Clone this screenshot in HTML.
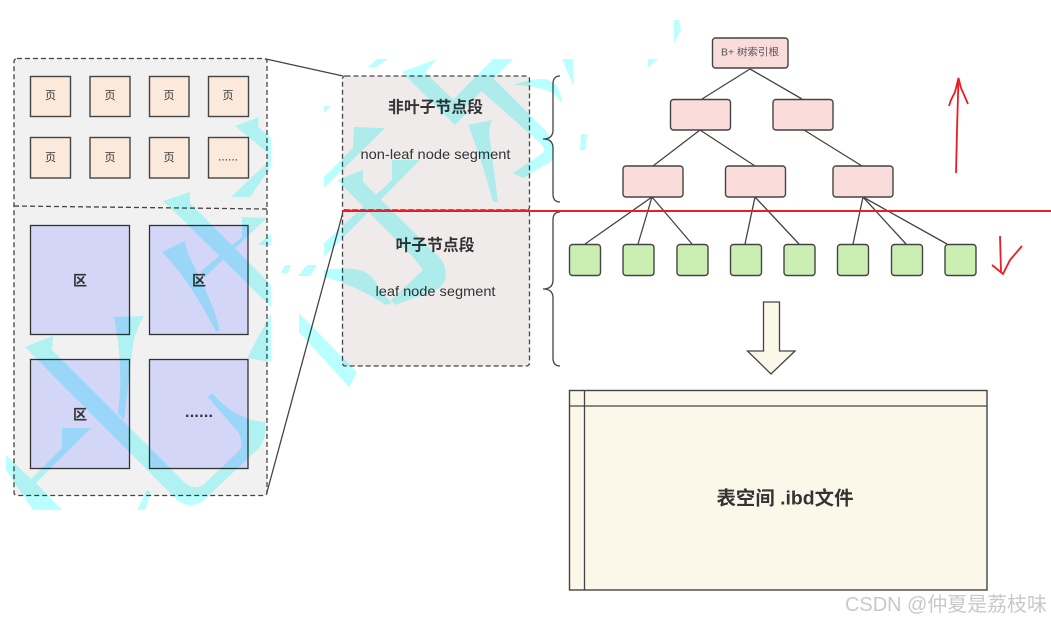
<!DOCTYPE html>
<html><head><meta charset="utf-8"><style>
html,body{margin:0;padding:0;background:#fff;width:1051px;height:622px;overflow:hidden}
svg{display:block;filter:blur(0.35px)}
text{font-family:"Liberation Sans","Noto Sans CJK SC",sans-serif;text-anchor:middle;dominant-baseline:central;fill:#333}
.b{font-weight:bold}
.s{stroke:#444;stroke-width:1.3;fill:none}
.d{stroke:#444;stroke-width:1.3;stroke-dasharray:5 3}
.pg rect{fill:#fbeadb;stroke:#444;stroke-width:1.4}
.bk rect{fill:#d3d6f7;stroke:#333;stroke-width:1.3}
.n rect{fill:#fadcdb;stroke:#444;stroke-width:1.4}
.l rect{fill:#cbeeb2;stroke:#444;stroke-width:1.4}
.r{stroke:#ed1c24;fill:none;stroke-width:1.8}
.wm{mix-blend-mode:multiply}
.wm polygon,.wm path{fill:#baffff}
</style></head><body>
<svg width="1051" height="622" viewBox="0 0 1051 622" xmlns="http://www.w3.org/2000/svg">
<rect x="14" y="58.5" width="253" height="437" rx="3" fill="#f1f1f1" class="d"/>
<line x1="14" y1="206" x2="267" y2="209" class="d"/>
<g class="pg">
<rect x="30.5" y="76.5" width="40" height="40"/><rect x="90" y="76.5" width="40" height="40"/><rect x="149.5" y="76.5" width="39.5" height="40"/><rect x="208.5" y="76.5" width="40" height="40"/>
<rect x="30.5" y="137.5" width="40" height="40.5"/><rect x="90" y="137.5" width="40" height="40.5"/><rect x="149.5" y="137.5" width="39.5" height="40.5"/><rect x="208.5" y="137.5" width="40" height="40.5"/>
</g>
<g font-size="11">
<text x="50.5" y="96">页</text><text x="110" y="96">页</text><text x="169" y="96">页</text><text x="228" y="96">页</text>
<text x="50.5" y="158">页</text><text x="110" y="158">页</text><text x="169" y="158">页</text><text x="228" y="156.5" font-size="12" textLength="20">......</text>
</g>
<g class="bk">
<rect x="30.5" y="225.5" width="99" height="109"/><rect x="149.5" y="225.5" width="98.5" height="109"/>
<rect x="30.5" y="359.5" width="99" height="109"/><rect x="149.5" y="359.5" width="98.5" height="109"/>
</g>
<g font-size="14">
<text x="80" y="280.5" class="b">区</text><text x="199" y="280.5" class="b">区</text><text x="80" y="414.5" class="b">区</text><text x="199" y="412.5" class="b" font-size="16" textLength="28">......</text>
</g>
<line x1="266" y1="59" x2="343" y2="76" class="s"/>
<line x1="343" y1="212" x2="266.5" y2="494" class="s"/>
<rect x="342.5" y="76" width="187" height="134" rx="3" fill="#efebeb" class="d"/>
<rect x="342.5" y="210" width="187" height="156" rx="3" fill="#efebeb" class="d"/>
<text x="435.5" y="108" font-size="16" class="b" textLength="95" lengthAdjust="spacingAndGlyphs">非叶子节点段</text>
<text x="435.5" y="154" font-size="14" textLength="150" lengthAdjust="spacingAndGlyphs">non-leaf node segment</text>
<text x="435" y="246" font-size="16" class="b" textLength="79" lengthAdjust="spacingAndGlyphs">叶子节点段</text>
<text x="435.5" y="291" font-size="14" textLength="120" lengthAdjust="spacingAndGlyphs">leaf node segment</text>
<path class="s" d="M560 76Q553 76 553 84V130Q553 139 543 139Q553 139 553 148V194Q553 202 560 202"/>
<path class="s" d="M560 212Q553 212 553 220V280Q553 289 543 289Q553 289 553 298V358Q553 366 560 366"/>
<path class="s" d="M750 69L702 99M750 69L802 99M700 130L653 166M700 130L755 166M804 130L862 166M652 197L585 244M652 197L638 244M652 197L692 244M755 197L745 244M755 197L799 244M863 197L853 244M863 197L906 244M863 197L947 244"/>
<g class="n">
<rect x="712.5" y="38" width="75.5" height="30" rx="3"/>
<rect x="670.5" y="99.5" width="60" height="30.5" rx="3"/><rect x="773" y="99.5" width="60" height="30.5" rx="3"/>
<rect x="623" y="166" width="60" height="31" rx="3"/><rect x="725.5" y="166" width="60" height="31" rx="3"/><rect x="833" y="166" width="60" height="31" rx="3"/>
</g>
<text x="750" y="53" font-size="10" textLength="58" lengthAdjust="spacingAndGlyphs" style="fill:#555">B+ 树索引根</text>
<g class="l">
<rect x="569.5" y="244.5" width="31" height="31" rx="3"/><rect x="623" y="244.5" width="31" height="31" rx="3"/><rect x="677" y="244.5" width="31" height="31" rx="3"/><rect x="730.5" y="244.5" width="31" height="31" rx="3"/><rect x="784" y="244.5" width="31" height="31" rx="3"/><rect x="837.5" y="244.5" width="31" height="31" rx="3"/><rect x="891.5" y="244.5" width="31" height="31" rx="3"/><rect x="945" y="244.5" width="31" height="31" rx="3"/>
</g>
<path d="M763.5 302H779.5V351H795L771 374L747.5 351H763.5Z" fill="#fcf8e9" stroke="#444" stroke-width="1.3"/>
<rect x="569.5" y="390.5" width="417.5" height="199.5" fill="#fcf8e9" stroke="#444" stroke-width="1.4"/>
<path class="s" d="M569.5 406H987M584.5 390.5V590"/>
<text x="785" y="499" font-size="19" class="b" textLength="137" lengthAdjust="spacingAndGlyphs">表空间 .ibd文件</text>
<g class="wm">
<polygon points="235,126 259,117 258,127 271,138 271,167 250,197 231,197 267,163 267,152"/>
<polygon points="163,201 190,192 190,203 271,285 271,307 180,217"/>
<polygon points="242,217 267,218 205,277 200,272 242,237"/>
<polygon points="258,245 271,233 271,245"/>
<path d="M162 252L185 241Q186 250 190 258Q212 300 220 330L216 332Q190 280 162 252Z"/>
<polygon points="271,313 247,358 271,362"/>
<path d="M114 317L144 316Q136 328 133 345L124 420L118 413Q124 370 114 317Z"/>
<path d="M25 347L53 336L52 350L185 483Q195 490 203 485L238 452Q245 445 238 432L208 397L212 393Q235 420 265 422Q267 435 260 447L203 501Q190 510 177 500Z"/>
<polygon points="6,455 31,479 62,448 62,428 91,428 36,483 62,510 33,510 6,470"/>
<polygon points="147,490 151,492 145,510 137,510"/>
<polygon points="285,265 291,265 288,273 281,273"/>
<polygon points="307,265 317,265 310,276 298,276"/>
<polygon points="324,106 331,106 324,113"/>
<polygon points="354,127 385,128 324,188 324,177 353,148"/>
<path d="M337 180L363 170V182L440 258Q448 268 445 280Q443 288 430 292L395 305L391 300L423 270L413 257Z"/>
<path d="M324 270Q350 266 365 272Q375 278 380 290L392 303L386 305Q355 285 324 277Z"/>
<polygon points="392,160 420,160 324,257 324,243 392,180"/>
<polygon points="368,67 377,59 388,59 375,68"/>
<polygon points="402,72 437,59 425,72 467,113 455,125"/>
<polygon points="465,108 513,59 493,59 450,103"/>
<path d="M477 87L493 78L540 125Q553 137 553 150L553 160L523 178L513 173L540 155Q548 150 540 143Z"/>
<path d="M513 85Q535 78 545 79Q560 82 562 103L553 93Q535 85 513 85Z"/>
<path d="M468 125L492 120Q488 130 490 140L498 202L493 202Q482 160 468 125Z"/>
<polygon points="562,59 573,59 573,85 568,73"/>
<polygon points="648,59 658,59 648,68"/>
<polygon points="674,20 679,20 681,30 674,43"/>
<polygon points="581,134 587,134 585,150 580,150"/>
<polygon points="299,313 357,372 349,387 299,332"/>
</g>
<line x1="342" y1="211" x2="1051" y2="211" stroke="#ed1c24" stroke-width="2"/>
<path class="r" d="M956 173L957 130L958.5 78M949 106L951 100L955 92L958.5 78L961 88L965 97L968 104"/>
<path class="r" d="M1000 236L1001 273M992 265L1003 274L1010 260L1022 246"/>
<text x="946" y="605" font-size="20" style="fill:#c9c9c9" textLength="202" lengthAdjust="spacingAndGlyphs">CSDN @仲夏是荔枝味</text>
</svg>
</body></html>
